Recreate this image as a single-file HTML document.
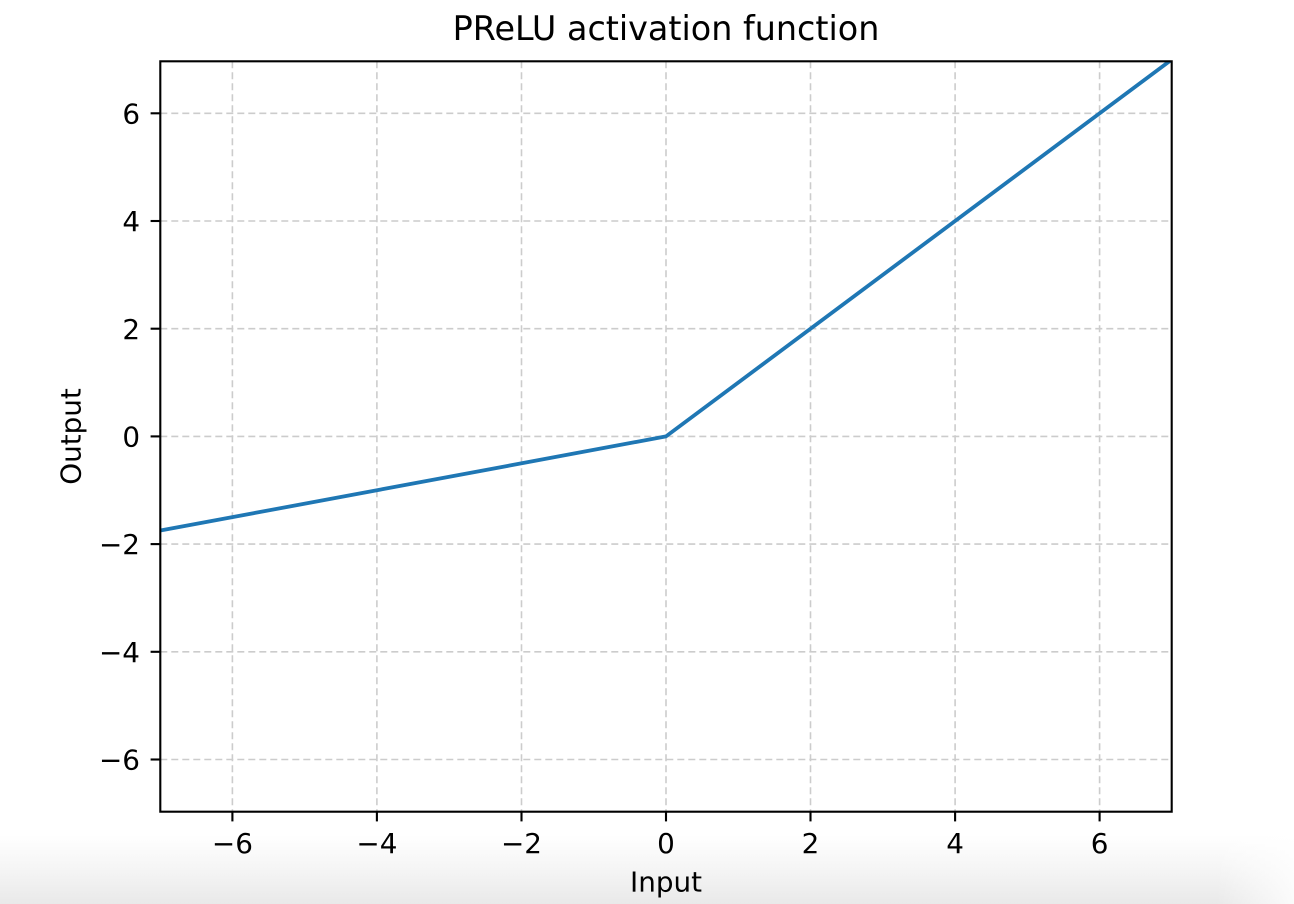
<!DOCTYPE html>
<html>
<head>
<meta charset="utf-8">
<style>
  html, body { margin: 0; padding: 0; background: #ffffff; }
  body { width: 1294px; height: 904px; overflow: hidden; }
  svg { display: block; }
  text { font-family: "DejaVu Sans", "Liberation Sans", sans-serif; fill: #000; }
</style>
</head>
<body>
<svg width="1294" height="904" viewBox="0 0 1294 904" xmlns="http://www.w3.org/2000/svg">
  <defs>
    <linearGradient id="bot" x1="0" y1="0" x2="0" y2="1">
      <stop offset="0" stop-color="#ffffff"/>
      <stop offset="0.45" stop-color="#f6f6f6"/>
      <stop offset="1" stop-color="#e9e9e9"/>
    </linearGradient>
    <linearGradient id="rfade" x1="0" y1="0" x2="1" y2="0">
      <stop offset="0" stop-color="#ffffff" stop-opacity="0"/>
      <stop offset="0.94" stop-color="#ffffff" stop-opacity="0"/>
      <stop offset="1" stop-color="#ffffff" stop-opacity="0.8"/>
    </linearGradient>
    <clipPath id="plot">
      <rect x="160.3" y="61.3" width="1011.4" height="750.4"/>
    </clipPath>
  </defs>

  <rect x="0" y="0" width="1294" height="904" fill="#ffffff"/>
  <rect x="0" y="835" width="1294" height="69" fill="url(#bot)"/>
  <rect x="0" y="835" width="1294" height="69" fill="url(#rfade)"/>

  <!-- grid -->
  <g stroke="#cccccc" stroke-width="1.6" stroke-dasharray="7,4" fill="none">
    <line x1="232.4" y1="61.3" x2="232.4" y2="811.7"/>
    <line x1="376.9" y1="61.3" x2="376.9" y2="811.7"/>
    <line x1="521.5" y1="61.3" x2="521.5" y2="811.7"/>
    <line x1="666.0" y1="61.3" x2="666.0" y2="811.7"/>
    <line x1="810.5" y1="61.3" x2="810.5" y2="811.7"/>
    <line x1="955.1" y1="61.3" x2="955.1" y2="811.7"/>
    <line x1="1099.6" y1="61.3" x2="1099.6" y2="811.7"/>

    <line x1="160.3" y1="113.3" x2="1171.7" y2="113.3"/>
    <line x1="160.3" y1="221.0" x2="1171.7" y2="221.0"/>
    <line x1="160.3" y1="328.7" x2="1171.7" y2="328.7"/>
    <line x1="160.3" y1="436.4" x2="1171.7" y2="436.4"/>
    <line x1="160.3" y1="544.1" x2="1171.7" y2="544.1"/>
    <line x1="160.3" y1="651.8" x2="1171.7" y2="651.8"/>
    <line x1="160.3" y1="759.5" x2="1171.7" y2="759.5"/>
  </g>

  <!-- data line -->
  <polyline clip-path="url(#plot)" points="160.1,530.6 666.0,436.4 1171.9,59.45"
            fill="none" stroke="#1f77b4" stroke-width="3.8" stroke-linejoin="round" stroke-linecap="square"/>

  <!-- spines -->
  <rect x="160.3" y="61.3" width="1011.4" height="750.4" fill="none" stroke="#000" stroke-width="2.1"/>

  <!-- ticks -->
  <g stroke="#000" stroke-width="2.1">
    <line x1="232.4" y1="811.7" x2="232.4" y2="821.4"/>
    <line x1="376.9" y1="811.7" x2="376.9" y2="821.4"/>
    <line x1="521.5" y1="811.7" x2="521.5" y2="821.4"/>
    <line x1="666.0" y1="811.7" x2="666.0" y2="821.4"/>
    <line x1="810.5" y1="811.7" x2="810.5" y2="821.4"/>
    <line x1="955.1" y1="811.7" x2="955.1" y2="821.4"/>
    <line x1="1099.6" y1="811.7" x2="1099.6" y2="821.4"/>

    <line x1="150.6" y1="113.3" x2="160.3" y2="113.3"/>
    <line x1="150.6" y1="221.0" x2="160.3" y2="221.0"/>
    <line x1="150.6" y1="328.7" x2="160.3" y2="328.7"/>
    <line x1="150.6" y1="436.4" x2="160.3" y2="436.4"/>
    <line x1="150.6" y1="544.1" x2="160.3" y2="544.1"/>
    <line x1="150.6" y1="651.8" x2="160.3" y2="651.8"/>
    <line x1="150.6" y1="759.5" x2="160.3" y2="759.5"/>
  </g>

  <!-- x tick labels -->
  <g font-size="27.8" text-anchor="middle">
    <text x="232.4" y="853">−6</text>
    <text x="376.9" y="853">−4</text>
    <text x="521.5" y="853">−2</text>
    <text x="666.0" y="853">0</text>
    <text x="810.5" y="853">2</text>
    <text x="955.1" y="853">4</text>
    <text x="1099.6" y="853">6</text>
  </g>

  <!-- y tick labels -->
  <g font-size="27.8" text-anchor="end">
    <text x="140" y="123.4">6</text>
    <text x="140" y="231.1">4</text>
    <text x="140" y="338.8">2</text>
    <text x="140" y="446.5">0</text>
    <text x="140" y="554.2">−2</text>
    <text x="140" y="661.9">−4</text>
    <text x="140" y="769.6">−6</text>
  </g>

  <!-- axis labels -->
  <text x="666" y="891.5" font-size="27.8" text-anchor="middle">Input</text>
  <text transform="translate(80.5,436.5) rotate(-90)" x="0" y="0" font-size="27.8" text-anchor="middle">Output</text>

  <!-- title -->
  <text x="666" y="40" font-size="33.4" text-anchor="middle">PReLU activation function</text>
</svg>
</body>
</html>
